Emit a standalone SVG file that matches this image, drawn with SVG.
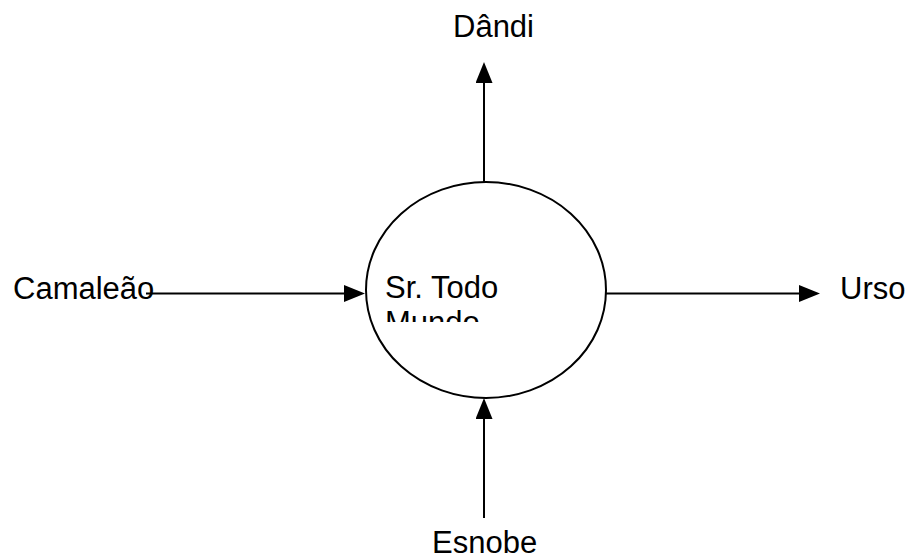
<svg xmlns="http://www.w3.org/2000/svg" width="909" height="560" viewBox="0 0 909 560">
  <style>
    .lbl { font-family: "Liberation Sans", Arial, sans-serif; font-size: 31px; fill: #000; }
    .edge { stroke: #000; stroke-width: 2; fill: none; marker-end: url(#head); }
  </style>
  <defs>
    <!-- solid triangular arrowhead; the line stops at the base, the head adds 21px -->
    <marker id="head" markerUnits="userSpaceOnUse" markerWidth="22" markerHeight="18" refX="0" refY="8.5" orient="auto">
      <path d="M0,0 L21,8.5 L0,17 Z" fill="#000"/>
    </marker>
    <clipPath id="centerClip">
      <rect x="380" y="260" width="220" height="62"/>
    </clipPath>
  </defs>

  <rect width="909" height="560" fill="#fff"/>

  <g id="connectors">
    <line class="edge" x1="146" y1="293.5" x2="344" y2="293.5"/>
    <line class="edge" x1="606" y1="293.5" x2="799" y2="293.5"/>
    <line class="edge" x1="484" y1="182" x2="484" y2="83"/>
    <line class="edge" x1="484" y1="518" x2="484" y2="419"/>
  </g>

  <g id="center">
    <ellipse cx="486" cy="290" rx="120" ry="108" fill="none" stroke="#000" stroke-width="2"/>
    <text class="lbl" clip-path="url(#centerClip)"><tspan x="385" y="298">Sr. Todo</tspan><tspan x="385" y="333">Mundo</tspan></text>
  </g>

  <g id="camaleao">
    <text class="lbl" x="13" y="299">Camaleão</text>
  </g>

  <g id="urso">
    <text class="lbl" x="840" y="299">Urso</text>
  </g>

  <g id="dandi">
    <text class="lbl" x="453" y="37">Dândi</text>
  </g>

  <g id="esnobe">
    <text class="lbl" x="432" y="553">Esnobe</text>
  </g>
</svg>
